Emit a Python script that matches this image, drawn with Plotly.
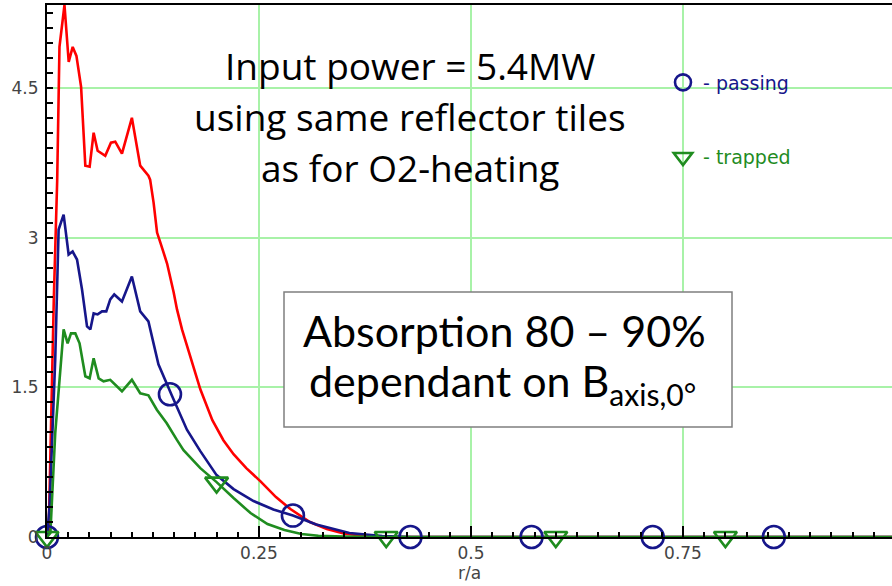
import plotly.graph_objects as go

# ---------------- data ----------------
red_x = [0, 0.002, 0.008, 0.012, 0.0147, 0.0206, 0.0256, 0.0303, 0.0347, 0.0402, 0.0452,
         0.0503, 0.055, 0.0597, 0.0687, 0.0754, 0.0805, 0.0884, 0.1001, 0.1099, 0.1196,
         0.1216, 0.1257, 0.1298, 0.1337, 0.1416, 0.1494, 0.1533, 0.1592, 0.165, 0.1808,
         0.195, 0.208, 0.22, 0.235, 0.2515, 0.27, 0.287, 0.31, 0.33, 0.35, 0.376, 0.41,
         0.5, 0.75, 1.0]
red_y = [0, 0.05, 2.37, 3.57, 4.91, 5.33, 4.76, 4.91, 4.82, 4.51, 3.72,
         3.71, 4.05, 3.87, 3.82, 3.95, 3.96, 3.84, 4.20, 3.72, 3.62,
         3.58, 3.35, 3.05, 2.95, 2.74, 2.45, 2.28, 2.08, 1.92, 1.48,
         1.17, 0.97, 0.83, 0.69, 0.56, 0.40, 0.28, 0.15, 0.08, 0.035, 0.01, 0,
         0, 0, 0]

passing_x = [0, 0.003, 0.0097, 0.0137, 0.0196, 0.0255, 0.0302, 0.0354, 0.0413, 0.0472, 0.0511,
             0.055, 0.0597, 0.0649, 0.0699, 0.0746, 0.0793, 0.0884, 0.1001, 0.1099, 0.1196,
             0.1255, 0.1314, 0.1471, 0.165, 0.1808, 0.2, 0.22, 0.2436, 0.267, 0.29,
             0.3175, 0.3566, 0.3954, 0.43, 0.5, 0.75, 1.0]
passing_y = [0, 0.3, 1.78, 3.08, 3.23, 2.83, 2.86, 2.78, 2.48, 2.11, 2.08,
             2.24, 2.23, 2.26, 2.26, 2.38, 2.43, 2.36, 2.61, 2.26, 2.16,
             1.94, 1.73, 1.42, 1.075, 0.86, 0.62, 0.48, 0.36, 0.275, 0.215,
             0.125, 0.04, 0.01, 0, 0, 0, 0]

trapped_x = [0, 0.004, 0.0097, 0.0156, 0.0196, 0.0243, 0.0283, 0.0334, 0.0384, 0.0452, 0.0503,
             0.055, 0.0609, 0.0667, 0.0746, 0.0884, 0.1001, 0.1099, 0.1196, 0.1295, 0.1412,
             0.153, 0.161, 0.1808, 0.2, 0.22, 0.24, 0.26, 0.28, 0.30, 0.32,
             0.35, 0.4, 0.5, 0.75, 1.0]
trapped_y = [0, 0.04, 1.04, 1.71, 2.08, 1.94, 2.04, 2.04, 1.94, 1.61, 1.59,
             1.79, 1.59, 1.56, 1.575, 1.46, 1.575, 1.44, 1.42, 1.275, 1.14,
             0.975, 0.87, 0.69, 0.55, 0.39, 0.24, 0.13, 0.07, 0.03, 0.012,
             0.004, 0, 0, 0, 0]

# symbol markers along the curves
passing_mx = [0, 0.145, 0.29, 0.4286, 0.5714, 0.7143, 0.8571]
passing_my = [0, 1.43, 0.215, 0, 0, 0, 0]
trapped_mx = [0, 0.2, 0.4, 0.6, 0.8]
trapped_my = [0, 0.545, 0, 0, 0]

x_ticks = [0, 0.25, 0.5, 0.75, 1.0]
y_ticks = [0, 1.5, 3, 4.5]

RED = "#ff0000"
NAVY = "#16168a"
GREEN = "#1f8c1f"
GRID = "#a8f2a8"

fig = go.Figure()
fig.add_trace(go.Scatter(x=red_x, y=red_y, mode="lines", line=dict(color=RED, width=2.6),
                         showlegend=False, hoverinfo="skip"))
fig.add_trace(go.Scatter(x=passing_x, y=passing_y, mode="lines", line=dict(color=NAVY, width=2.6),
                         showlegend=False, hoverinfo="skip"))
fig.add_trace(go.Scatter(x=trapped_x, y=trapped_y, mode="lines", line=dict(color=GREEN, width=2.6),
                         showlegend=False, hoverinfo="skip"))
fig.add_trace(go.Scatter(x=passing_mx, y=passing_my, mode="markers", cliponaxis=False,
                         name="<span style='color:%s'>- passing</span>" % NAVY, legendgroup="p",
                         marker=dict(symbol="circle-open", size=22, color=NAVY, line=dict(width=2.6))))
fig.add_trace(go.Scatter(x=trapped_mx, y=trapped_my, mode="markers", cliponaxis=False,
                         name="<span style='color:%s'>- trapped</span>" % GREEN, legendgroup="t",
                         marker=dict(symbol="triangle-down-open", size=20, color=GREEN, line=dict(width=2.6))))

L, T, B = 47, 5, 49
W, H = 892, 586
PW, PH = W - L, H - T - B


def px(xp):
    return (xp - L) / PW


def py(yp):
    return (H - B - yp) / PH


axis_font = dict(family="DejaVu Sans", size=17, color="#444444")

fig.update_xaxes(range=[0, 845 / 848], tickvals=x_ticks, showgrid=True, gridcolor=GRID, gridwidth=1.5,
                 zeroline=False, showline=True, linecolor="black", linewidth=2, mirror=True,
                 ticks="inside", ticklen=11, tickwidth=1.5, tickcolor="black",
                 minor=dict(dtick=0.025, ticks="inside", ticklen=5, tickwidth=1.5, tickcolor="black", showgrid=False),
                 tickfont=axis_font, automargin=False,
                 title=dict(text="r/a", font=axis_font, standoff=0))
fig.update_yaxes(range=[0, 5.33], tickvals=y_ticks, showgrid=True, gridcolor=GRID, gridwidth=1.5,
                 zeroline=False, showline=True, linecolor="black", linewidth=2,
                 ticks="inside", ticklen=6, tickwidth=1.5, tickcolor="black",
                 minor=dict(dtick=0.15, ticks="inside", ticklen=6, tickwidth=1.5, tickcolor="black", showgrid=False),
                 tickfont=axis_font, automargin=False, ticklabelstandoff=3)

TITLE = dict(family="Open Sans", color="black", size=37)
BOX = dict(family="Lato", color="black", size=43)
annotations = [
    dict(text="Input power = 5.4MW", x=px(410), y=py(65), font=TITLE),
    dict(text="using same reflector tiles", x=px(410), y=py(116.5), font=TITLE),
    dict(text="as for O2-heating", x=px(410), y=py(167.5), font=TITLE),
    dict(text="Absorption 80 \u2013 90%", x=px(504), y=py(331), font=BOX),
    dict(text="dependant on B<sub>axis,0\u00b0</sub>", x=px(502), y=py(383), font=BOX),
]
for a in annotations:
    a.update(xref="paper", yref="paper", xanchor="center", yanchor="middle", showarrow=False)

fig.update_layout(
    width=W, height=H, autosize=False,
    margin=dict(l=L, r=0, t=T, b=B),
    paper_bgcolor="white", plot_bgcolor="white",
    annotations=annotations,
    shapes=[dict(type="rect", xref="paper", yref="paper", x0=px(284), x1=px(732), y0=py(427), y1=py(292),
                 line=dict(color="#7f7f7f", width=1.5), fillcolor="white", layer="above")],
    legend=dict(x=px(663), y=py(63.5), xanchor="left", yanchor="top", bgcolor="rgba(0,0,0,0)",
                font=dict(family="DejaVu Sans", size=19), tracegroupgap=47, traceorder="grouped"),
)

fig.write_html("out.html")
